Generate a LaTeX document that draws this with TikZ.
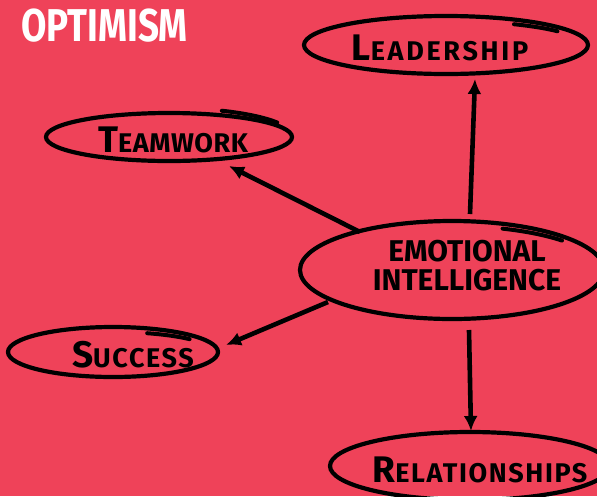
\documentclass[tikz,border=0pt]{standalone}
\usepackage{fontspec}
\usepackage{graphicx}
\setmainfont{Fira Sans}
\usetikzlibrary{arrows.meta}
\definecolor{bg}{HTML}{EF4259}
\tikzset{
  oval/.style={draw=black, line width=4.2pt},
  tail/.style={draw=black, line width=4pt, line cap=round},
  conn/.style={draw=black, line width=4.6pt, -{Latex[length=15pt,width=14pt]}},
  lbl/.style={font=\bfseries\fontsize{27}{30}\selectfont, align=center, inner sep=0pt},
}
\newcommand{\bigfirst}[3]{\addfontfeatures{LetterSpace=#1}{\fontsize{37}{40}\selectfont #2}#3}
\begin{document}
\begin{tikzpicture}[x=1pt,y=-1pt]
\fill[bg] (0,0) rectangle (597,496);
\useasboundingbox (0,0) rectangle (597,496);
\node[anchor=west, inner sep=0pt, text=white, font=\bfseries\fontsize{46}{46}\selectfont] (title) at (21,26) {\scalebox{0.8}[1]{OPTIMISM}};

% ovals
\draw[oval] (446,45) ellipse [x radius=142, y radius=29];
\draw[tail] ([shift={(300:136 and 24)}]446,45) arc[start angle=300, end angle=325, x radius=136, y radius=24];
\node[lbl] (lead) at (440,48) {\bigfirst{10}{L}{EADERSHIP}};

\draw[oval] (169,137) ellipse [x radius=123, y radius=24];
\draw[tail] ([shift={(295:125 and 29)}]169,137) arc[start angle=295, end angle=330, x radius=125, y radius=29];
\node[lbl] (team) at (173,140) {\bigfirst{2}{T}{EAMWORK}};

\draw[oval] (452,270) ellipse [x radius=152, y radius=49];
\draw[tail] ([shift={(290:148 and 44)}]452,270) arc[start angle=290, end angle=318, x radius=148, y radius=44];
\node[lbl, font=\bfseries\fontsize{30}{29}\selectfont] (ei) at (467,266) {EMOTIONAL\\INTELLIGENCE};

\draw[oval] (113,352) ellipse [x radius=105, y radius=25];
\draw[tail] ([shift={(290:100 and 20)}]113,352) arc[start angle=290, end angle=320, x radius=100, y radius=20];
\node[lbl] (succ) at (133,355) {\bigfirst{6}{S}{UCCESS}};

\draw[oval] (470,466) ellipse [x radius=140, y radius=34];
\node[lbl] (rel) at (480,470) {\bigfirst{6}{R}{ELATIONSHIPS}};

% connectors
\coordinate (e1) at (470,214);
\coordinate (l1) at (475,79);
\draw[conn] (e1) -- (l1);
\coordinate (e2) at (360,232);
\coordinate (t1) at (229,166);
\draw[conn] (e2) -- (t1);
\coordinate (e3) at (328,302);
\coordinate (s1) at (226,345);
\draw[conn] (e3) -- (s1);
\coordinate (e4) at (469,330);
\coordinate (r1) at (471,431);
\draw[conn] (e4) -- (r1);
\end{tikzpicture}
\end{document}
